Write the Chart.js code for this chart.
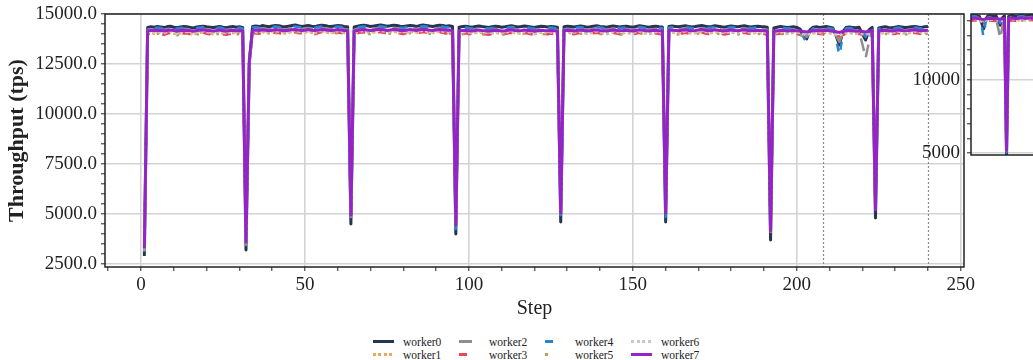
<!doctype html>
<html>
<head>
<meta charset="UTF-8">
<title>Throughput per worker</title>
<script src="https://cdn.jsdelivr.net/npm/chart.js@4.4.1/dist/chart.umd.min.js"></script>
<style>
  html, body { margin: 0; padding: 0; background: #fff; overflow: hidden; }
  #wrap { position: relative; width: 1033px; height: 360px; overflow: hidden; }
  #main { position: absolute; left: 0; top: 0; }
  #inset { position: absolute; left: 900px; top: 0; }
  #legend {
    position: absolute; left: 373px; top: 335px;
    display: grid; grid-template-columns: repeat(4, 86px); grid-template-rows: 13px 13px;
    grid-auto-flow: column;
    font: 11.5px "Liberation Serif", serif; color: #222;
  }
  .item { display: flex; align-items: center; white-space: nowrap; }
  .swatch { width: 21px; height: 3px; margin-right: 9px; }
</style>
</head>
<body>
<div id="wrap">
  <canvas id="main" width="990" height="325"></canvas>
  <canvas id="inset" width="140" height="170"></canvas>
  <div id="legend"></div>
</div>

<script>
// steps 1..240, one value per step and worker
const firstStep = 1;
const markerSteps = [208, 240];

const workerNames = ['worker0', 'worker1', 'worker2', 'worker3', 'worker4', 'worker5', 'worker6', 'worker7'];
const workerColors = ['#263552', '#f2a65a', '#8e8e8e', '#e8465a', '#2a86d0', '#b89b5e', '#c9c9c9', '#9424c8'];
const workerDashes = [[], [3, 2.5], [13, 8], [8, 13], [8, 13], [2.5, 18], [3, 2.5], []];
const workerWidths = [3, 2.5, 2.5, 2.5, 2.5, 2.5, 2.5, 3];

const worker0 = [
  2900,
  14330,14360,14340,14380,14350,14320,14370,14390,14340,14310,14350,14380,14360,14330,14300,14350,14370,14390,14360,14340,14320,14350,14380,14340,14310,14350,14370,14340,14360,14330,
  3200, 12500,
  14380,14400,14370,14420,14390,14360,14400,14430,14410,14380,14360,14390,14420,14450,14410,14380,14400,14430,14390,14370,14410,14440,14420,14390,14370,14400,14430,14410,14380,14360,
  4500,
  14350,14390,14420,14440,14410,14380,14400,14430,14450,14420,14390,14410,14440,14420,14390,14370,14400,14430,14410,14380,14420,14450,14430,14400,14380,14410,14440,14420,14390,14410,14380,
  4000,
  14340,14370,14390,14360,14340,14380,14400,14370,14350,14330,14360,14390,14370,14340,14360,14390,14410,14380,14350,14370,14400,14380,14350,14330,14360,14390,14370,14350,14380,14360,14340,
  4600,
  14360,14390,14370,14350,14380,14400,14370,14340,14360,14390,14410,14380,14360,14340,14370,14400,14380,14350,14370,14390,14360,14340,14380,14410,14390,14360,14340,14370,14390,14360,14350,
  4600,
  14370,14400,14380,14360,14390,14410,14380,14350,14370,14400,14420,14390,14360,14380,14410,14390,14360,14340,14370,14400,14380,14360,14390,14410,14380,14350,14370,14390,14370,14360,14340,
  3700,
  14300,14340,14370,14350,14320,14340,14360,14330,14250,13900,13750,14200,14340,14360,14330,14350,14370,14340,14300,13900,13450,14100,14320,14350,14330,14310,14340,14000,13700,14200,14330,
  4800,
  14300,14340,14360,14330,14310,14340,14370,14350,14320,14340,14360,14380,14350,14330,14360,14370
];

const worker1 = [
  3250,
  14020,14060,14010,14070,14040,13990,14050,14080,14020,13980,14030,14070,14050,14000,13970,14030,14060,14090,14030,14010,13990,14030,14070,14020,13990,14030,14060,14020,14050,14000,
  3550, 12550,
  14050,14080,14040,14100,14070,14020,14060,14110,14080,14050,14020,14060,14100,14130,14080,14050,14070,14110,14060,14030,14080,14120,14090,14060,14030,14070,14110,14080,14050,14020,
  5000,
  14020,14070,14100,14120,14080,14050,14070,14110,14130,14090,14060,14080,14120,14090,14060,14030,14070,14110,14080,14050,14090,14130,14100,14070,14050,14080,14120,14090,14060,14080,14050,
  4500,
  14000,14040,14070,14030,14010,14050,14080,14040,14020,13990,14030,14070,14040,14010,14030,14070,14090,14050,14020,14040,14080,14050,14020,13990,14030,14070,14040,14020,14050,14030,14000,
  5100,
  14030,14070,14040,14020,14050,14080,14040,14010,14030,14070,14090,14050,14030,14000,14040,14080,14050,14020,14040,14070,14030,14000,14050,14090,14060,14030,14000,14040,14070,14030,14020,
  5100,
  14040,14080,14050,14030,14060,14090,14050,14020,14040,14080,14100,14060,14030,14050,14090,14060,14030,14000,14040,14080,14050,14030,14060,14090,14050,14020,14040,14070,14040,14030,14000,
  4200,
  13990,14030,14060,14040,14010,14030,14060,14030,13990,13960,13930,13990,14030,14060,14030,14050,14070,14030,13990,13950,13900,13980,14030,14050,14030,14010,14040,13990,13950,14000,14030,
  5300,
  14000,14040,14070,14030,14010,14040,14080,14050,14020,14040,14070,14090,14050,14030,14060,14070
];

const worker2 = [
  3150,
  14220,14250,14230,14260,14240,14210,14250,14270,14230,14200,14240,14260,14250,14220,14200,14240,14260,14280,14240,14230,14210,14240,14270,14230,14210,14240,14260,14230,14250,14220,
  3450, 12650,
  14250,14270,14240,14290,14260,14230,14270,14300,14280,14250,14230,14260,14290,14310,14280,14250,14270,14300,14260,14240,14280,14310,14290,14260,14240,14270,14300,14280,14250,14230,
  4850,
  14220,14260,14290,14310,14280,14250,14270,14300,14320,14290,14260,14280,14310,14290,14260,14240,14270,14300,14280,14250,14290,14320,14300,14270,14250,14280,14310,14290,14260,14280,14250,
  4350,
  14210,14240,14260,14230,14210,14250,14270,14240,14220,14200,14230,14260,14240,14210,14230,14260,14280,14250,14220,14240,14270,14250,14220,14200,14230,14260,14240,14220,14250,14230,14210,
  4950,
  14230,14260,14240,14220,14250,14270,14240,14210,14230,14260,14280,14250,14230,14210,14240,14270,14250,14220,14240,14260,14230,14210,14250,14280,14260,14230,14210,14240,14260,14230,14220,
  4950,
  14240,14270,14250,14230,14260,14280,14250,14220,14240,14270,14290,14260,14230,14250,14280,14260,14230,14210,14240,14270,14250,14230,14260,14280,14250,14220,14240,14260,14240,14230,14210,
  4050,
  14180,14220,14240,14230,14200,14220,14240,14210,14150,14000,13850,14100,14220,14240,14210,14230,14250,14220,14180,13900,13600,14050,14200,14230,14210,14190,14100,13500,12800,13600,14200,
  5150,
  14180,14220,14240,14210,14190,14220,14250,14230,14200,14220,14240,14260,14230,14210,14240,14250
];

const worker3 = [
  3200,
  13990,14030,14000,14050,14010,13960,14020,14060,14000,13950,14010,14040,14030,13980,13940,14000,14040,14070,14010,13990,13960,14010,14050,13990,13960,14000,14040,13990,14020,13980,
  3500, 12500,
  14020,14050,14010,14070,14040,13990,14030,14080,14050,14020,13990,14030,14070,14100,14050,14020,14040,14080,14030,14000,14050,14090,14060,14030,14000,14040,14080,14050,14020,13990,
  4950,
  13990,14040,14070,14090,14050,14020,14040,14080,14100,14060,14030,14050,14090,14060,14030,14000,14040,14080,14050,14020,14060,14100,14070,14040,14020,14050,14090,14060,14030,14050,14020,
  4450,
  13970,14010,14040,14000,13980,14020,14050,14010,13990,13960,14000,14040,14010,13980,14000,14040,14060,14020,13990,14010,14050,14020,13990,13960,14000,14040,14010,13990,14020,14000,13970,
  5050,
  14000,14040,14010,13990,14020,14050,14010,13980,14000,14040,14060,14020,14000,13970,14010,14050,14020,13990,14010,14040,14000,13970,14020,14060,14030,14000,13970,14010,14040,14000,13990,
  5050,
  14010,14050,14020,14000,14030,14060,14020,13990,14010,14050,14070,14030,14000,14020,14060,14030,14000,13970,14010,14050,14020,14000,14030,14060,14020,13990,14010,14040,14010,14000,13970,
  4150,
  13960,14000,14030,14010,13980,14000,14030,14000,13960,13930,13900,13960,14000,14030,14000,14020,14040,14000,13960,13920,13870,13950,14000,14020,14000,13980,14010,13960,13920,13970,14000,
  5250,
  13970,14010,14040,14000,13980,14010,14050,14020,13990,14010,14040,14060,14020,14000,14030,14040
];

const worker4 = [
  3100,
  14290,14310,14280,14320,14300,14270,14310,14330,14290,14260,14300,14320,14310,14280,14260,14300,14320,14340,14300,14290,14270,14300,14330,14290,14270,14300,14320,14290,14310,14280,
  3400, 12600,
  14320,14340,14310,14360,14330,14300,14340,14370,14350,14320,14300,14330,14360,14380,14350,14320,14340,14370,14330,14310,14350,14380,14360,14330,14310,14340,14370,14350,14320,14300,
  4750,
  14290,14330,14360,14380,14350,14320,14340,14370,14390,14360,14330,14350,14380,14360,14330,14310,14340,14370,14350,14320,14360,14390,14370,14340,14320,14350,14380,14360,14330,14350,14320,
  4250,
  14280,14310,14330,14300,14280,14320,14340,14310,14290,14270,14300,14330,14310,14280,14300,14330,14350,14320,14290,14310,14340,14320,14290,14270,14300,14330,14310,14290,14320,14300,14280,
  4850,
  14300,14330,14310,14290,14320,14340,14310,14280,14300,14330,14350,14320,14300,14280,14310,14340,14320,14290,14310,14330,14300,14280,14320,14350,14330,14300,14280,14310,14330,14300,14290,
  4850,
  14310,14340,14320,14300,14330,14350,14320,14290,14310,14340,14360,14330,14300,14320,14350,14330,14300,14280,14310,14340,14320,14300,14330,14350,14320,14290,14310,14330,14310,14300,14280,
  3950,
  14250,14290,14310,14300,14270,14290,14310,14280,14200,13850,13550,14100,14290,14310,14280,14300,14320,14290,14250,13800,12850,13950,14270,14300,14280,14260,14290,14100,13850,14150,14280,
  5050,
  14250,14290,14310,14280,14260,14290,14320,14300,14270,14290,14310,14330,14300,14280,14310,14320
];

const worker5 = [
  3150,
  13970,14000,13980,14020,13990,13950,14000,14030,13980,13940,13990,14020,14000,13960,13930,13980,14010,14040,13990,13970,13950,13990,14020,13970,13950,13980,14010,13970,14000,13960,
  3450, 12450,
  14000,14020,13990,14040,14010,13970,14010,14050,14020,13990,13970,14000,14040,14070,14020,13990,14010,14050,14000,13980,14020,14060,14030,14000,13980,14010,14050,14020,13990,13970,
  4900,
  13970,14010,14040,14060,14020,13990,14010,14050,14070,14030,14000,14020,14060,14030,14000,13980,14010,14050,14020,13990,14030,14070,14040,14010,13990,14020,14060,14030,14000,14020,13990,
  4400,
  13950,13990,14010,13980,13960,14000,14020,13990,13970,13940,13980,14010,13990,13960,13980,14010,14030,14000,13970,13990,14020,14000,13970,13940,13980,14010,13990,13970,14000,13980,13950,
  5000,
  13980,14010,13990,13970,14000,14020,13990,13960,13980,14010,14030,14000,13980,13950,13990,14020,14000,13970,13990,14010,13980,13950,14000,14030,14010,13980,13950,13990,14010,13980,13970,
  5000,
  13990,14020,14000,13980,14010,14030,14000,13970,13990,14020,14040,14010,13980,14000,14030,14010,13980,13950,13990,14020,14000,13980,14010,14030,14000,13970,13990,14010,13990,13980,13950,
  4100,
  13940,13980,14000,13990,13960,13980,14000,13980,13940,13910,13880,13940,13980,14000,13980,13990,14010,13980,13940,13900,13860,13930,13980,14000,13980,13960,13990,13940,13900,13950,13980,
  5200,
  13950,13990,14010,13980,13960,13990,14020,14000,13970,13990,14010,14030,14000,13980,14000,14010
];

const worker6 = [
  3350,
  14070,14100,14080,14120,14090,14050,14100,14130,14080,14040,14090,14120,14100,14060,14030,14080,14110,14140,14090,14070,14050,14090,14120,14070,14050,14080,14110,14070,14100,14060,
  3650, 12700,
  14100,14120,14090,14140,14110,14070,14110,14150,14120,14090,14070,14100,14140,14170,14120,14090,14110,14150,14100,14080,14120,14160,14130,14100,14080,14110,14150,14120,14090,14070,
  5050,
  14070,14110,14140,14160,14120,14090,14110,14150,14170,14130,14100,14120,14160,14130,14100,14080,14110,14150,14120,14090,14130,14170,14140,14110,14090,14120,14160,14130,14100,14120,14090,
  4550,
  14050,14090,14110,14080,14060,14100,14120,14090,14070,14040,14080,14110,14090,14060,14080,14110,14130,14100,14070,14090,14120,14100,14070,14040,14080,14110,14090,14070,14100,14080,14050,
  5150,
  14080,14110,14090,14070,14100,14120,14090,14060,14080,14110,14130,14100,14080,14050,14090,14120,14100,14070,14090,14110,14080,14050,14100,14130,14110,14080,14050,14090,14110,14080,14070,
  5150,
  14090,14120,14100,14080,14110,14130,14100,14070,14090,14120,14140,14110,14080,14100,14130,14110,14080,14050,14090,14120,14100,14080,14110,14130,14100,14070,14090,14110,14090,14080,14050,
  4250,
  14040,14080,14100,14090,14060,14080,14100,14080,14040,14000,13960,14030,14080,14100,14080,14090,14110,14080,14040,13990,13940,14020,14080,14100,14080,14060,14090,14030,13980,14040,14080,
  5350,
  14050,14090,14110,14080,14060,14090,14120,14100,14070,14090,14110,14130,14100,14080,14100,14110
];

const worker7 = [
  3300,
  14160,14180,14170,14190,14170,14150,14180,14200,14170,14140,14170,14190,14180,14160,14140,14170,14190,14210,14170,14160,14150,14170,14200,14160,14140,14170,14190,14160,14180,14150,
  3600, 12700,
  14180,14200,14170,14210,14190,14160,14190,14220,14200,14180,14160,14190,14210,14230,14200,14180,14190,14220,14190,14170,14200,14230,14210,14190,14170,14190,14220,14200,14180,14160,
  4950,
  14150,14180,14210,14230,14200,14180,14190,14220,14240,14210,14180,14200,14230,14210,14180,14170,14190,14220,14200,14180,14210,14240,14220,14190,14180,14200,14230,14210,14190,14200,14180,
  4450,
  14150,14170,14190,14160,14150,14180,14200,14170,14160,14140,14160,14190,14170,14150,14160,14190,14210,14180,14160,14170,14200,14180,14160,14140,14160,14190,14170,14160,14180,14160,14150,
  5050,
  14160,14190,14170,14150,14180,14200,14170,14150,14160,14190,14210,14180,14160,14150,14170,14200,14180,14160,14170,14190,14160,14150,14180,14210,14190,14160,14150,14170,14190,14160,14150,
  5050,
  14170,14200,14180,14160,14190,14210,14180,14160,14170,14200,14220,14190,14160,14180,14210,14190,14160,14150,14170,14200,14180,14160,14190,14210,14180,14160,14170,14190,14170,14160,14150,
  4150,
  14130,14160,14180,14170,14150,14160,14180,14160,14150,14120,14100,14140,14160,14180,14160,14170,14190,14160,14140,14110,14080,14130,14160,14170,14160,14140,14160,14130,14100,14140,14160,
  5200,
  14150,14170,14190,14160,14150,14170,14200,14180,14160,14170,14190,14210,14180,14160,14180,14190
];

const series = [worker0, worker1, worker2, worker3, worker4, worker5, worker6, worker7];

const serif = '"Liberation Serif", "Times New Roman", serif';
const ink = '#222';
const gridColor = '#d3d3d3';

function makeDatasets() {
  return series.map((vals, i) => ({
    label: workerNames[i],
    data: vals.map((y, j) => ({ x: firstStep + j, y: y })),
    borderColor: workerColors[i],
    borderDash: workerDashes[i],
    borderWidth: workerWidths[i],
    borderJoinStyle: 'round',
    pointRadius: 0,
    fill: false,
    tension: 0,
    order: 7 - i
  }));
}

// ticks every `step` inside the axis range (Chart.js would otherwise stretch the step)
function fixedTicks(step) {
  return scale => {
    const out = [];
    for (let v = Math.ceil(scale.min / step) * step; v <= scale.max + 1e-6; v += step) out.push({ value: v });
    scale.ticks = out;
  };
}

// box round the plot area
const frame = {
  id: 'frame',
  afterDraw(chart) {
    const a = chart.chartArea, ctx = chart.ctx;
    ctx.save();
    ctx.strokeStyle = ink;
    ctx.lineWidth = 1.5;
    ctx.strokeRect(a.left, a.top, a.right - a.left, a.bottom - a.top);
    ctx.restore();
  }
};

// dotted lines that mark the zoomed window
const markers = {
  id: 'markers',
  beforeDatasetsDraw(chart) {
    const x = chart.scales.x, a = chart.chartArea, ctx = chart.ctx;
    ctx.save();
    ctx.strokeStyle = '#8a8a8a';
    ctx.lineWidth = 1.2;
    ctx.setLineDash([2, 2]);
    for (const s of markerSteps) {
      const px = Math.round(x.getPixelForValue(s)) + 0.5;
      ctx.beginPath();
      ctx.moveTo(px, a.top);
      ctx.lineTo(px, a.bottom);
      ctx.stroke();
    }
    ctx.restore();
  }
};

new Chart(document.getElementById('main'), {
  type: 'line',
  data: { datasets: makeDatasets() },
  options: {
    responsive: false,
    animation: false,
    layout: { padding: { top: 14, right: 26, left: 0, bottom: 0 } },
    plugins: { legend: { display: false }, tooltip: { enabled: false } },
    scales: {
      x: {
        type: 'linear', min: -11, max: 251,
        afterBuildTicks: fixedTicks(10),
        afterFit: s => { s.height = 58; s.paddingLeft = 0; s.paddingRight = 0; },
        border: { display: false },
        grid: {
          color: c => (c.tick && c.tick.value % 50 === 0) ? gridColor : 'rgba(0,0,0,0)',
          lineWidth: 1.6, tickColor: ink, tickLength: 4, tickWidth: 1
        },
        ticks: {
          autoSkip: false, maxRotation: 0, padding: 3,
          color: ink, font: { family: serif, size: 19 },
          callback: v => v % 50 === 0 ? String(v) : ''
        },
        title: {
          display: true, text: 'Step', color: ink,
          font: { family: serif, size: 20, lineHeight: 1.2 }, padding: { top: 0, bottom: 4 }
        }
      },
      y: {
        min: 2350, max: 15000,
        afterBuildTicks: fixedTicks(500),
        afterFit: s => { s.width = 105; s.paddingTop = 0; s.paddingBottom = 0; },
        border: { display: false },
        grid: {
          color: c => (c.tick && c.tick.value % 2500 === 0) ? gridColor : 'rgba(0,0,0,0)',
          lineWidth: 1.6, tickColor: ink, tickLength: 4, tickWidth: 1
        },
        ticks: {
          autoSkip: false, padding: 4,
          color: ink, font: { family: serif, size: 19 },
          callback: v => v % 2500 === 0 ? v.toFixed(1) : ''
        },
        title: {
          display: true, text: 'Throughput (tps)', color: ink,
          font: { family: serif, size: 22, weight: 'bold', lineHeight: 1.2 }, padding: { top: 4, bottom: 0 }
        }
      }
    }
  },
  plugins: [markers, frame]
});

// zoomed view of steps 207..240
new Chart(document.getElementById('inset'), {
  type: 'line',
  data: { datasets: makeDatasets() },
  options: {
    responsive: false,
    animation: false,
    layout: { padding: { top: 14, right: 0, left: 0, bottom: 15 } },
    plugins: { legend: { display: false }, tooltip: { enabled: false } },
    scales: {
      x: { type: 'linear', min: 207, max: 240, display: false },
      y: {
        min: 4880, max: 14460,
        afterBuildTicks: fixedTicks(1000),
        afterFit: s => { s.width = 71; s.paddingTop = 0; s.paddingBottom = 0; },
        border: { display: false },
        grid: {
          color: c => (c.tick && c.tick.value % 5000 === 0) ? gridColor : 'rgba(0,0,0,0)',
          lineWidth: 1.6, tickColor: ink, tickLength: 4, tickWidth: 1
        },
        ticks: {
          autoSkip: false, padding: 7,
          color: ink, font: { family: serif, size: 19 },
          callback: v => v % 5000 === 0 ? String(v) : ''
        }
      }
    }
  },
  plugins: [frame]
});

// legend, filled column by column like the original
const legend = document.getElementById('legend');
workerNames.forEach((name, i) => {
  const item = document.createElement('div');
  item.className = 'item';
  const sw = document.createElement('span');
  sw.className = 'swatch';
  const d = workerDashes[i];
  if (d.length) {
    sw.style.background = 'repeating-linear-gradient(to right, ' + workerColors[i] + ' 0 ' + d[0] + 'px, transparent ' + d[0] + 'px ' + (d[0] + d[1]) + 'px)';
  } else {
    sw.style.background = workerColors[i];
  }
  const txt = document.createElement('span');
  txt.textContent = name;
  item.appendChild(sw);
  item.appendChild(txt);
  legend.appendChild(item);
});
</script>
</body>
</html>
